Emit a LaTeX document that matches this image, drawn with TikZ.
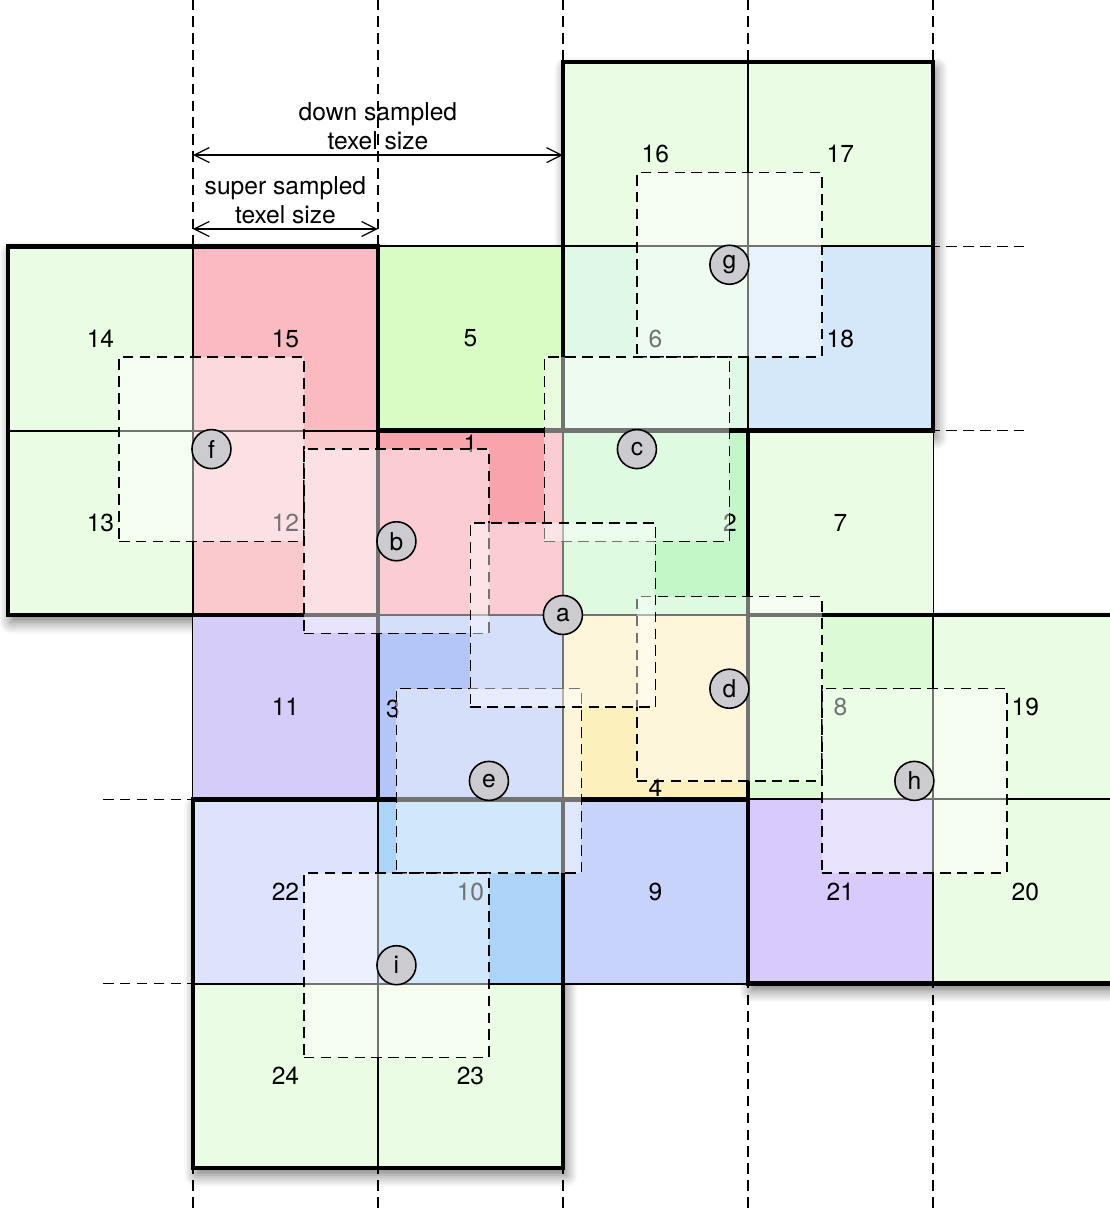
\documentclass[tikz,border=0pt]{standalone}
\usepackage{fontspec}
\setmainfont{TeX Gyre Heros}
\usetikzlibrary{arrows.meta, shadows.blur}

\definecolor{paleGreen}{RGB}{235,252,228}
\definecolor{rose}{RGB}{249,187,193}
\definecolor{lightRose}{RGB}{249,201,206}
\definecolor{lime}{RGB}{217,251,196}
\definecolor{deepRose}{RGB}{249,163,172}
\definecolor{mint}{RGB}{195,247,199}
\definecolor{cornflower}{RGB}{179,198,247}
\definecolor{butter}{RGB}{252,240,188}
\definecolor{paleMint}{RGB}{224,248,230}
\definecolor{skyBlue}{RGB}{212,232,250}
\definecolor{lavender}{RGB}{214,204,250}
\definecolor{sprout}{RGB}{220,251,212}
\definecolor{lilac}{RGB}{216,203,251}
\definecolor{periwinkle}{RGB}{200,211,251}
\definecolor{mist}{RGB}{221,227,252}
\definecolor{azure}{RGB}{172,212,249}
\definecolor{dotgray}{RGB}{204,203,208}

\begin{document}
\begin{tikzpicture}[x=3.7cm, y=-3.687cm,
    every node/.style={font=\fontsize{14}{16.5}\selectfont},
    cell/.style={minimum width=3.7cm, minimum height=3.687cm, inner sep=0pt},
    grid line/.style={draw=black, line width=0.8pt},
    block/.style={draw=black, line width=2.5pt},
    shadowbox/.style={fill=white, blur shadow={shadow xshift=0.6mm, shadow yshift=-1.4mm, shadow blur radius=2.4mm, shadow blur steps=8, shadow opacity=55}},
    guide/.style={draw=black, line width=0.8pt, dash pattern=on 6pt off 3.6pt},
    window/.style={draw=black, line width=0.8pt, dash pattern=on 6pt off 3.6pt, fill=white, fill opacity=0.45, minimum width=3.7cm, minimum height=3.687cm, inner sep=0pt},
    sample/.style={circle, draw=black, line width=0.9pt, fill=dotgray, minimum size=0.78cm, inner sep=0pt},
    dim/.style={line width=0.7pt, {Straight Barb[length=3mm, width=3mm]}-{Straight Barb[length=3mm, width=3mm]}}
]
    \useasboundingbox (-0.0432,-0.3364) rectangle (5.957,6.2172);

    % Guide lines
    \foreach \i in {1,...,5}
        \draw[guide] (\i,-0.34) -- (\i,6.22);
    \foreach \j in {1,...,5}
        \draw[guide] (0.514,\j) -- (5.497,\j);

    % Shadows of the down sampled texels
    \path[shadowbox] (0,1) rectangle (2,3);
    \path[shadowbox] (3,0) rectangle (5,2);
    \path[shadowbox] (2,2) rectangle (4,4);
    \path[shadowbox] (4,3) rectangle (6,5);
    \path[shadowbox] (1,4) rectangle (3,6);

    % Cells
    \node[cell, fill=paleGreen] (c16) at (3.5,0.5) {16};
    \node[cell, fill=paleGreen] (c17) at (4.5,0.5) {17};
    \node[cell, fill=paleGreen] (c14) at (0.5,1.5) {14};
    \node[cell, fill=rose] (c15) at (1.5,1.5) {15};
    \node[cell, fill=lime] (c5) at (2.5,1.5) {5};
    \node[cell, fill=paleMint] (c6) at (3.5,1.5) {6};
    \node[cell, fill=skyBlue] (c18) at (4.5,1.5) {18};
    \node[cell, fill=paleGreen] (c13) at (0.5,2.5) {13};
    \node[cell, fill=lightRose] (c12) at (1.5,2.5) {12};
    \node[cell, fill=deepRose] (c1) at (2.5,2.5) {};
    \node[cell, fill=mint] (c2) at (3.5,2.5) {};
    \node[cell, fill=paleGreen] (c7) at (4.5,2.5) {7};
    \node[cell, fill=lavender] (c11) at (1.5,3.5) {11};
    \node[cell, fill=cornflower] (c3) at (2.5,3.5) {};
    \node[cell, fill=butter] (c4) at (3.5,3.5) {};
    \node[cell, fill=sprout] (c8) at (4.5,3.5) {8};
    \node[cell, fill=paleGreen] (c19) at (5.5,3.5) {19};
    \node[cell, fill=mist] (c22) at (1.5,4.5) {22};
    \node[cell, fill=azure] (c10) at (2.5,4.5) {10};
    \node[cell, fill=periwinkle] (c9) at (3.5,4.5) {9};
    \node[cell, fill=lilac] (c21) at (4.5,4.5) {21};
    \node[cell, fill=paleGreen] (c20) at (5.5,4.5) {20};
    \node[cell, fill=paleGreen] (c24) at (1.5,5.5) {24};
    \node[cell, fill=paleGreen] (c23) at (2.5,5.5) {23};

    \foreach \n in {16,17,14,15,5,6,18,13,12,1,2,7,11,3,4,8,19,22,10,9,21,20,24,23}
        \draw[grid line] (c\n.north west) rectangle (c\n.south east);

    % Labels of the centre texel
    \node (n1) at (2.5,2.072) {1};
    \node (n2) at (3.903,2.5) {2};
    \node (n3) at (2.081,3.51) {3};
    \node (n4) at (3.5,3.939) {4};

    % Down sampled texels
    \draw[block] (0,1) rectangle (2,3);
    \draw[block] (3,0) rectangle (5,2);
    \draw[block] (2,2) rectangle (4,4);
    \draw[block] (4,3) rectangle (6,5);
    \draw[block] (1,4) rectangle (3,6);

    % Filter footprints
    \node[window] (wf) at (1.1,2.1) {};
    \node[window] (wg) at (3.9,1.1) {};
    \node[window] (wc) at (3.4,2.1) {};
    \node[window] (wb) at (2.1,2.6) {};
    \node[window] (wd) at (3.9,3.4) {};
    \node[window] (we) at (2.6,3.9) {};
    \node[window] (wh) at (4.9,3.9) {};
    \node[window] (wi) at (2.1,4.9) {};
    \node[window] (wa) at (3,3) {};

    % Sample points
    \foreach \s in {a,b,c,d,e,f,g,h,i}
        \node[sample] (\s) at (w\s) {\s};

    % Texel sizes
    \coordinate (dsL) at (1,0.505);
    \coordinate (dsR) at (3,0.505);
    \coordinate (ssL) at (1,0.906);
    \coordinate (ssR) at (2,0.906);
    \draw[dim] (dsL) -- node[above, inner sep=2.5pt, align=center] (dsText) {down sampled\\texel size} (dsR);
    \draw[dim] (ssL) -- node[above, inner sep=2.5pt, align=center] (ssText) {super sampled\\texel size} (ssR);
\end{tikzpicture}
\end{document}
